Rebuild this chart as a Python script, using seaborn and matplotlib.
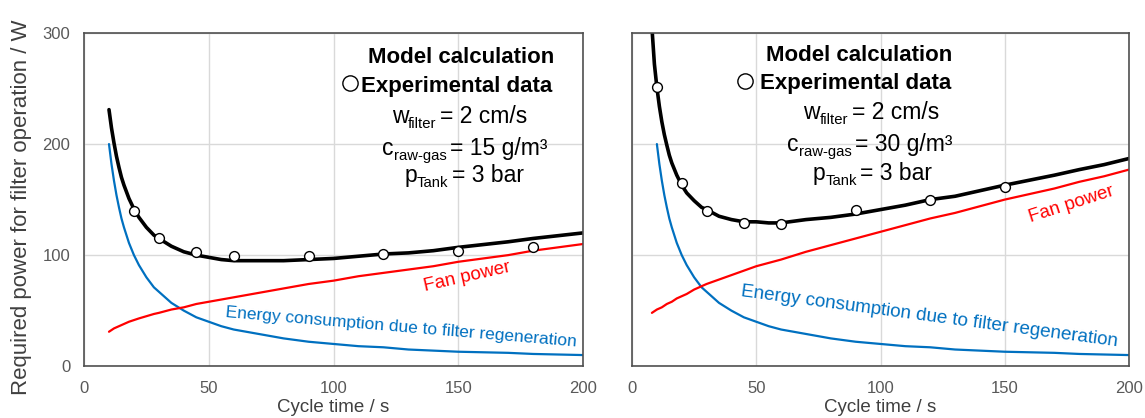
import matplotlib

matplotlib.use("Agg")
import matplotlib.pyplot as plt
import pandas as pd
import seaborn as sns
from matplotlib.transforms import offset_copy

# Cycle time grid (s) for the left panel model curves
left_time = [10, 11, 12, 13, 14, 15, 16, 18, 20, 22, 25, 28, 30, 35, 40, 45,
             50, 55, 60, 70, 80, 90, 100, 110, 120, 130, 140, 150, 160, 170,
             180, 190, 200]
# Left panel: c_raw-gas = 15 g/m3
left_regen = [200, 182, 167, 154, 143, 133, 125, 111, 100, 91, 80, 71, 67,
              57, 50, 44, 40, 36, 33, 29, 25, 22, 20, 18, 17, 15, 14, 13,
              12.5, 12, 11, 10.5, 10]
left_fan = [31, 32.5, 34, 35, 36, 37, 38, 40, 41.5, 43, 45, 47, 48, 51, 53,
            56, 58, 60, 62, 66, 70, 74, 77, 81, 84, 87, 90, 94, 97, 100, 104,
            107, 110]
left_total = [231, 214.5, 201, 189, 179, 170, 163, 151, 141.5, 134, 125, 118,
              115, 108, 103, 100, 98, 96, 95, 95, 95, 96, 97, 99, 101, 102,
              104, 107, 109.5, 112, 115, 117.5, 120]
left_exp_x = [20, 30, 45, 60, 90, 120, 150, 180]
left_exp_y = [140, 115, 103, 99, 99, 101, 104, 107]

# Right panel: c_raw-gas = 30 g/m3
right_time = [8, 9, 10, 11, 12, 13, 14, 15, 16, 18, 20, 22, 25, 28, 30, 35,
              40, 45, 50, 55, 60, 70, 80, 90, 100, 110, 120, 130, 140, 150,
              160, 170, 180, 190, 200]
right_regen = [None, None, 200, 182, 167, 154, 143, 133, 125, 111, 100, 91,
               80, 71, 67, 57, 50, 44, 40, 36, 33, 29, 25, 22, 20, 18, 17, 15,
               14, 13, 12.5, 12, 11, 10.5, 10]
right_fan = [48, 49.5, 51, 52, 53, 54.5, 56, 57, 58, 61, 63, 65, 69, 72, 74,
             78, 82, 86, 90, 93, 96, 103, 109, 115, 121, 127, 133, 138, 144,
             150, 155, 160, 166, 171, 177]
right_total = [305, 272, 251, 234, 220, 208.5, 199, 190, 183, 172, 163, 156,
               149, 143, 141, 135, 132, 130, 130, 129, 129, 132, 134, 137,
               141, 145, 150, 153, 158, 163, 167.5, 172, 177, 181.5, 187]
right_exp_x = [10, 20, 30, 45, 60, 90, 120, 150]
right_exp_y = [251, 165, 140, 129, 128, 141, 150, 161]

panels = [
    dict(t=left_time, regen=left_regen, fan=left_fan, total=left_total,
         ex=left_exp_x, ey=left_exp_y, conc="15",
         head=(151, 273), circ=(106.6, 255), exp=(111.2, 247),
         eq_x=[142.7, 146.7, 147.5], eq_y=[219, 190, 166],
         fan_xy=(153.5, 80), fan_rot=12.8,
         reg_xy=(127, 35), reg_rot=-4.8, reg_fs=12.5),
    dict(t=right_time, regen=right_regen, fan=right_fan, total=right_total,
         ex=right_exp_x, ey=right_exp_y, conc="30",
         head=(91.2, 275), circ=(45.5, 257), exp=(51.5, 250),
         eq_x=[88.4, 89.7, 91.8], eq_y=[222.5, 193.7, 167.6],
         fan_xy=(176.7, 146), fan_rot=17.8,
         reg_xy=(119.5, 45), reg_rot=-7.6, reg_fs=13.6),
]

sns.set_theme(style="white")
plt.rcParams["font.family"] = ["Liberation Sans", "DejaVu Sans"]

fig = plt.figure(figsize=(11.45, 4.18), dpi=100)
axes = [fig.add_axes([0.0734, 0.124, 0.4358, 0.797]),
        fig.add_axes([0.5520, 0.124, 0.4340, 0.797])]
renderer = fig.canvas.get_renderer()

MAIN_FS = 16.5
SUB_FS = 10.7


def sub_line(ax, x, y, base, sub, rest):
    # "rest" starts at x; base + subscript sit right-aligned just before it
    ax.text(x, y, rest, ha="left", va="baseline", fontsize=MAIN_FS,
            color="black")
    gap = 2.5
    st = ax.text(x, y, sub, ha="right", va="baseline", fontsize=SUB_FS,
                 color="black",
                 transform=offset_copy(ax.transData, fig, x=-gap, y=-3.5,
                                       units="points"))
    w = st.get_window_extent(renderer).width * 72 / fig.dpi
    ax.text(x, y, base, ha="right", va="baseline", fontsize=MAIN_FS,
            color="black",
            transform=offset_copy(ax.transData, fig, x=-gap - w, y=0,
                                  units="points"))


for ax, p in zip(axes, panels):
    df = pd.DataFrame({"t": p["t"], "regen": p["regen"], "fan": p["fan"],
                       "total": p["total"]})
    sns.lineplot(data=df.dropna(), x="t", y="regen", ax=ax, color="#0070C0",
                 lw=1.6, estimator=None, sort=False)
    sns.lineplot(data=df, x="t", y="fan", ax=ax, color="#FF0000",
                 lw=1.6, estimator=None, sort=False)
    sns.lineplot(data=df, x="t", y="total", ax=ax, color="black",
                 lw=2.6, estimator=None, sort=False)
    sns.scatterplot(x=p["ex"], y=p["ey"], ax=ax, marker="o", s=50,
                    facecolor="white", edgecolor="black", linewidth=1.0,
                    zorder=5)

    ax.set_xlim(0, 200)
    ax.set_ylim(0, 300)
    ax.set_xticks([0, 50, 100, 150, 200])
    ax.set_yticks([0, 100, 200, 300])
    ax.grid(True, color="#d9d9d9", lw=1)
    ax.set_axisbelow(True)
    for s in ax.spines.values():
        s.set_color("#505050")
        s.set_linewidth(1.2)
    ax.tick_params(labelsize=12, colors="#595959", length=0)
    ax.tick_params(axis="x", pad=11)
    ax.tick_params(axis="y", pad=10)
    ax.set_xlabel("Cycle time / s", fontsize=13.5, color="#404040",
                  labelpad=2)
    ax.set_ylabel("")

    # header / legend block
    ax.text(*p["head"], "Model calculation", ha="center", va="baseline",
            fontsize=16, fontweight="bold", color="black")
    ax.text(*p["exp"], "Experimental data", ha="left", va="baseline",
            fontsize=16, fontweight="bold", color="black")
    ax.plot([p["circ"][0]], [p["circ"][1]], marker="o", ms=11, mfc="white",
            mec="black", mew=1.0, clip_on=False)
    sub_line(ax, p["eq_x"][0], p["eq_y"][0], "w", "filter", "= 2 cm/s")
    sub_line(ax, p["eq_x"][1], p["eq_y"][1], "c", "raw-gas",
             "= " + p["conc"] + " g/m³")
    sub_line(ax, p["eq_x"][2], p["eq_y"][2], "p", "Tank", "= 3 bar")

    ax.text(*p["fan_xy"], "Fan power", color="#FF0000", fontsize=13.5,
            rotation=p["fan_rot"], ha="center", va="center",
            rotation_mode="anchor")
    ax.text(*p["reg_xy"], "Energy consumption due to filter regeneration",
            color="#0070C0", fontsize=p["reg_fs"], rotation=p["reg_rot"],
            ha="center", va="center", rotation_mode="anchor")

axes[0].set_ylabel("Required power for filter operation / W", fontsize=16,
                   color="#404040")
axes[0].yaxis.set_label_coords(-0.104, 0.477)
axes[1].set_yticklabels([])

fig.savefig("out.png", dpi=100)
